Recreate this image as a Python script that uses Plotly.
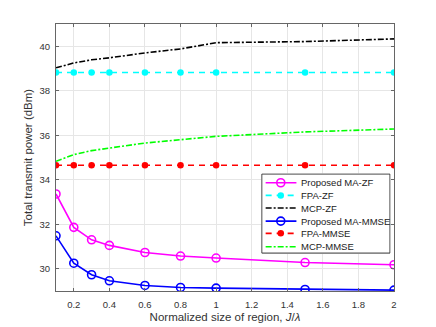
import plotly.graph_objects as go

# ---------------------------- Data ---------------------------------
region_size = [0.1, 0.2, 0.3, 0.4, 0.6, 0.8, 1, 1.5, 2]

ma_zf = [33.36, 31.86, 31.30, 31.05, 30.73, 30.57, 30.48, 30.28, 30.18]
fpa_zf = [38.82] * 9
mcp_zf = [39.03, 39.25, 39.39, 39.48, 39.70, 39.88, 40.16, 40.21, 40.33]
ma_mmse = [31.48, 30.25, 29.73, 29.46, 29.25, 29.16, 29.13, 29.07, 29.04]
fpa_mmse = [34.65] * 9
mcp_mmse = [34.83, 35.13, 35.31, 35.43, 35.65, 35.80, 35.95, 36.15, 36.28]

x_ticks = [0.2, 0.4, 0.6, 0.8, 1, 1.2, 1.4, 1.6, 1.8, 2]
y_ticks = [30, 32, 34, 36, 38, 40]

names = ["Proposed MA-ZF", "FPA-ZF", "MCP-ZF",
         "Proposed MA-MMSE", "FPA-MMSE", "MCP-MMSE"]

# ---------------------------- Styles ---------------------------------
DASH = "6px,5px"
DASHDOT = "6px,2px,2px,2px"
open_circle = dict(symbol="circle-open", size=8, line=dict(width=1.6))
dot = dict(symbol="circle", size=6.5)

styles = [
    dict(mode="lines+markers", line=dict(color="#ff00ff", width=1.6),
         marker=dict(open_circle, color="#ff00ff")),
    dict(mode="lines+markers", line=dict(color="#00ffff", width=1.6, dash=DASH),
         marker=dict(dot, color="#00ffff")),
    dict(mode="lines", line=dict(color="black", width=1.6, dash=DASHDOT)),
    dict(mode="lines+markers", line=dict(color="#0000ff", width=1.6),
         marker=dict(open_circle, color="#0000ff")),
    dict(mode="lines+markers", line=dict(color="#ff0000", width=1.6, dash=DASH),
         marker=dict(dot, color="#ff0000")),
    dict(mode="lines", line=dict(color="#00ff00", width=1.6, dash=DASHDOT)),
]
series = [ma_zf, fpa_zf, mcp_zf, ma_mmse, fpa_mmse, mcp_mmse]

# ---------------------------- Figure ---------------------------------
fig = go.Figure()

for name, values, style in zip(names, series, styles):
    fig.add_trace(go.Scatter(x=region_size, y=values, name=name,
                             showlegend=False, **style))

# MATLAB-style legend box drawn in its own small subplot (on top of the main one)
fig.add_trace(go.Scatter(x=[0, 1, 1, 0, 0], y=[0, 0, 1, 1, 0], mode="lines",
                         fill="toself", fillcolor="white",
                         line=dict(color="#333333", width=1),
                         xaxis="x2", yaxis="y2", showlegend=False, hoverinfo="skip"))

row_y = [0.89, 0.73, 0.57, 0.405, 0.25, 0.08]
for name, y, style in zip(names, row_y, styles):
    fig.add_trace(go.Scatter(x=[0.03, 0.27], y=[y, y], mode="lines",
                             line=style["line"], xaxis="x2", yaxis="y2",
                             showlegend=False, hoverinfo="skip"))
    if "marker" in style:
        fig.add_trace(go.Scatter(x=[0.148], y=[y], mode="markers",
                                 marker=style["marker"], xaxis="x2", yaxis="y2",
                                 showlegend=False, hoverinfo="skip"))
    fig.add_annotation(x=0.29, y=y, xref="x2", yref="y2", text=name,
                       showarrow=False, xanchor="left", yanchor="middle",
                       font=dict(size=9.5, color="#222222"))

axis_style = dict(showline=True, linecolor="#666666", linewidth=1, mirror="ticks",
                  ticks="inside", ticklen=3, tickcolor="#666666",
                  showgrid=True, gridcolor="#e6e6e6", gridwidth=1,
                  zeroline=False, automargin=False,
                  tickfont=dict(size=9.5, color="#333333"))

# page body has an 8px margin, so the figure is trimmed by that amount
fig.update_layout(
    width=428, height=319,
    margin=dict(l=48, r=42, t=16, b=36),
    paper_bgcolor="white", plot_bgcolor="white",
    font=dict(family="Liberation Sans, Arial, sans-serif"),
    xaxis=dict(axis_style, range=[0.1, 2], tickvals=x_ticks, ticklabelstandoff=5,
               title=dict(text="Normalized size of region, <i>J</i>/<i>λ</i>",
                          font=dict(size=11.5, color="#333333"), standoff=3)),
    yaxis=dict(axis_style, range=[29, 41], tickvals=y_ticks, ticklabelstandoff=3,
               title=dict(text="Total transmit power (dBm)",
                          font=dict(size=11.5, color="#333333"), standoff=4)),
    xaxis2=dict(domain=[0.607, 0.99], anchor="y2", range=[-0.005, 1.005],
                visible=False, fixedrange=True),
    yaxis2=dict(domain=[0.139, 0.441], anchor="x2", range=[-0.01, 1.01],
                visible=False, fixedrange=True),
)

fig.write_html("out.html")
